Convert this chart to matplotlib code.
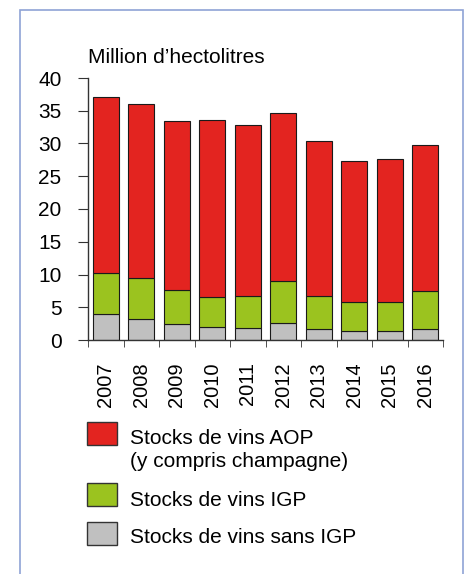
import numpy as np
import matplotlib.pyplot as plt
from matplotlib.patches import Rectangle

plt.rcParams['font.family'] = ['Liberation Sans', 'DejaVu Sans']

# Data (million hectolitres)
years = ["2007", "2008", "2009", "2010", "2011", "2012", "2013", "2014", "2015", "2016"]
sans_igp = [3.9, 3.15, 2.4, 2.0, 1.8, 2.55, 1.65, 1.3, 1.35, 1.7]
igp = [6.4, 6.35, 5.3, 4.6, 4.9, 6.45, 5.1, 4.55, 4.5, 5.8]
aop = [26.8, 26.5, 25.7, 27.0, 26.2, 25.7, 23.65, 21.45, 21.75, 22.3]

series_labels = [["Stocks de vins AOP", "(y compris champagne)"],
                 ["Stocks de vins IGP"],
                 ["Stocks de vins sans IGP"]]
colors = ["#E32420", "#9BC31F", "#C0C0C0"]

W, H = 469, 574
fig = plt.figure(figsize=(W / 100, H / 100), dpi=100)
ax = fig.add_axes([88 / W, 1 - 340 / H, 355 / W, 262 / H])

x = np.arange(len(years))
bw = 0.72
ekw = dict(edgecolor="#1a1a1a", linewidth=0.8)
ax.bar(x, sans_igp, bw, color=colors[2], **ekw)
ax.bar(x, igp, bw, bottom=sans_igp, color=colors[1], **ekw)
ax.bar(x, aop, bw, bottom=np.add(sans_igp, igp), color=colors[0], **ekw)

ax.set_xlim(-0.5, len(years) - 0.5)
ax.set_ylim(0, 40)
ax.set_yticks(range(0, 41, 5))
ax.set_xticks(x)
ax.set_xticklabels(years, rotation=90)
ax.set_xticks(np.arange(-0.5, len(years), 1), minor=True)
ax.tick_params(axis="x", which="major", length=0, pad=16, labelsize=14.5)
ax.tick_params(axis="x", which="minor", length=5, color="#333333")
ax.tick_params(axis="y", length=7, pad=12, labelsize=15, color="#333333")
for s in ["top", "right"]:
    ax.spines[s].set_visible(False)
for s in ["left", "bottom"]:
    ax.spines[s].set_color("#333333")
    ax.spines[s].set_linewidth(1.0)

fig.text(88 / W, 1 - 63 / H, "Million d\u2019hectolitres", fontsize=15, va="baseline", ha="left")

# legend drawn by hand
patch_tops = [422, 483, 522]
text_baselines = [[444, 467], [506], [543]]
for c, top, lines, bases in zip(colors, patch_tops, series_labels, text_baselines):
    fig.add_artist(Rectangle((87 / W, 1 - (top + 23) / H), 30 / W, 23 / H,
                             transform=fig.transFigure, facecolor=c,
                             edgecolor="#333333", linewidth=1.0))
    for line, b in zip(lines, bases):
        fig.text(130 / W, 1 - b / H, line, fontsize=15, va="baseline", ha="left")

# frame around the figure
fig.add_artist(Rectangle((20 / W, -0.05), 443 / W, 1 - 9.5 / H + 0.05,
                         transform=fig.transFigure, fill=False,
                         edgecolor="#8FA3D6", linewidth=1.2, clip_on=False))

fig.savefig("out.png", dpi=100)
